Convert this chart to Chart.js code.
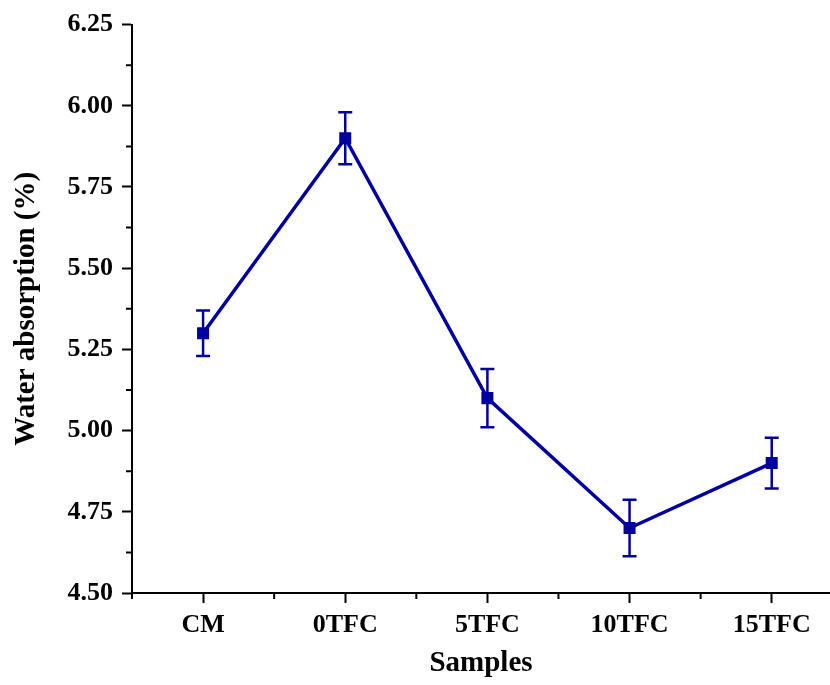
<!DOCTYPE html>
<html>
<head>
<meta charset="utf-8">
<script src="https://cdn.jsdelivr.net/npm/chart.js@4"></script>
<style>
  html,body{margin:0;padding:0;background:#fff;overflow:hidden;}
  canvas{display:block;}
</style>
</head>
<body>
<canvas id="waChart" width="830" height="685"></canvas>
<script>
// Données
const samples    = ['CM', '0TFC', '5TFC', '10TFC', '15TFC'];
const absorption = [5.30, 5.90, 5.10, 4.70, 4.90];
const errors     = [0.07, 0.08, 0.09, 0.087, 0.078];
const yTicks     = [4.50, 4.75, 5.00, 5.25, 5.50, 5.75, 6.00, 6.25];

const BLUE = '#0000a0';
const FONT = "'Liberation Serif', 'Times New Roman', serif";

// barres d'erreur + petites graduations
const extrasPlugin = {
  id:'extras',
  beforeDatasetsDraw(chart) {
    const {ctx, scales:{x,y}} = chart;
    ctx.save();
    ctx.strokeStyle = BLUE; ctx.lineWidth = 2.5;
    absorption.forEach((v,i)=>{
      const px = x.getPixelForValue(i);
      const top = y.getPixelForValue(v+errors[i]), bot = y.getPixelForValue(v-errors[i]);
      ctx.beginPath();
      ctx.moveTo(px, top); ctx.lineTo(px, bot);
      ctx.moveTo(px-7, top); ctx.lineTo(px+7, top);
      ctx.moveTo(px-7, bot); ctx.lineTo(px+7, bot);
      ctx.stroke();
    });
    ctx.restore();
  },
  afterDraw(chart) {
    const {ctx, scales:{x,y}} = chart;
    ctx.save();
    ctx.strokeStyle = '#000'; ctx.lineWidth = 2;
    ctx.beginPath();
    for (let i=0; i<=samples.length; i++) {
      const v = i-0.5;
      if (v < x.min || v > x.max) continue;
      const px = x.getPixelForValue(v);
      ctx.moveTo(px, y.bottom); ctx.lineTo(px, y.bottom+6);
    }
    for (let k=0; k<yTicks.length-1; k++) {
      const py = y.getPixelForValue((yTicks[k]+yTicks[k+1])/2);
      ctx.moveTo(x.left, py); ctx.lineTo(x.left-6, py);
    }
    ctx.stroke();
    ctx.restore();
  }
};

new Chart(document.getElementById('waChart'), {
  type:'line',
  data:{
    datasets:[{
      data: absorption.map((v,i)=>({x:i, y:v})),
      borderColor: BLUE, borderWidth: 3.5, tension: 0,
      pointStyle:'rect', pointRadius: 8.5, pointBackgroundColor: BLUE,
      pointBorderColor: BLUE, pointBorderWidth: 0, pointHoverRadius: 8.5,
    }]
  },
  options:{
    responsive:false, animation:false, devicePixelRatio:1,
    layout:{ autoPadding:false, padding:{ top:24, left:0, right:0, bottom:0 } },
    plugins:{ legend:{display:false}, tooltip:{enabled:false} },
    scales:{
      x:{
        type:'linear', min:-0.5, max:4.41,
        afterBuildTicks: s => { s.ticks = samples.map((_,i)=>({value:i})); },
        afterFit: s => { s.height = 92; s.paddingLeft = 0; s.paddingRight = 0; },
        grid:{ display:true, drawOnChartArea:false, drawTicks:true, tickLength:10, tickWidth:2, tickColor:'#000' },
        border:{ display:true, color:'#000', width:2 },
        ticks:{ autoSkip:false, maxRotation:0, padding:7, color:'#000',
                font:{family:FONT, size:26, weight:'bold'},
                callback: v => samples[v] ?? '' },
        title:{ display:true, text:'Samples', color:'#000', padding:{top:0,bottom:4},
                font:{family:FONT, size:29, weight:'bold'} },
      },
      y:{
        min:4.5, max:6.25,
        afterBuildTicks: s => { s.ticks = yTicks.map(v=>({value:v})); },
        afterFit: s => { s.width = 132; },
        grid:{ display:true, drawOnChartArea:false, drawTicks:true, tickLength:10, tickWidth:2, tickColor:'#000' },
        border:{ display:true, color:'#000', width:2 },
        ticks:{ padding:9, color:'#000',
                font:{family:FONT, size:26, weight:'bold'},
                callback: v => v.toFixed(2) },
        title:{ display:true, text:'Water absorption (%)', color:'#000', padding:{top:9,bottom:0},
                font:{family:FONT, size:29, weight:'bold'} },
      }
    }
  },
  plugins:[extrasPlugin]
});
</script>
</body>
</html>
